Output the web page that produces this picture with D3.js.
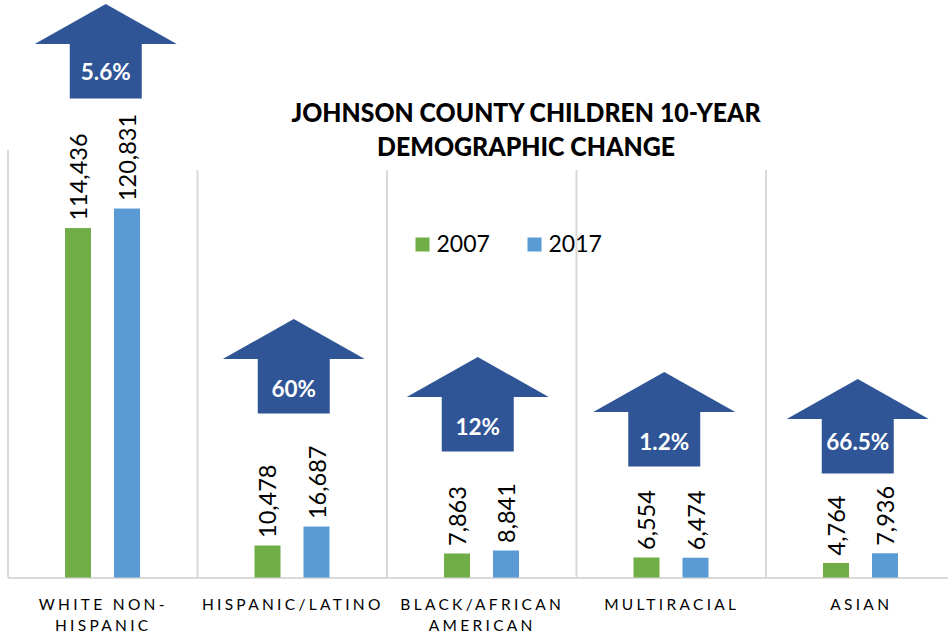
<!DOCTYPE html>
<html>
<head>
<meta charset="utf-8">
<script src="https://cdn.jsdelivr.net/npm/d3@7/dist/d3.min.js"></script>
<style>
  html, body { margin: 0; padding: 0; background: #fff; }
  svg { display: block; }
</style>
</head>
<body>
<svg id="chart" width="948" height="635"></svg>
<script>
// ---- data ----
const categories = ["WHITE NON-HISPANIC", "HISPANIC/LATINO", "BLACK/AFRICAN AMERICAN", "MULTIRACIAL", "ASIAN"];
const categoryLines = [["WHITE NON-", "HISPANIC"], ["HISPANIC/LATINO"], ["BLACK/AFRICAN", "AMERICAN"], ["MULTIRACIAL"], ["ASIAN"]];
const seriesNames = ["2007", "2017"];
const values2007 = [114436, 10478, 7863, 6554, 4764];
const values2017 = [120831, 16687, 8841, 6474, 7936];
const changeLabels = ["5.6%", "60%", "12%", "1.2%", "66.5%"];
const titleLines = ["JOHNSON COUNTY CHILDREN 10-YEAR", "DEMOGRAPHIC CHANGE"];

// ---- layout (not data) ----
const colors = { "2007": "#70ad47", "2017": "#5b9bd5" };
const arrowColor = "#2f5597";
const arrowLayout = [ // dx from category centre, tip y, text shift
  { dx: 3, tip: 4, tdy: 1 }, { dx: 1.5, tip: 319, tdy: 3 }, { dx: -4, tip: 357, tdy: 3 },
  { dx: -7, tip: 372, tdy: 3 }, { dx: -3, tip: 379, tdy: -4 }
];

const svg = d3.select("#chart");
const W = 948, H = 635;
const plotLeft = 8, step = 189.5;
const baseY = 577.5, topY = 150;

const x0 = d3.scaleBand().domain(categories).range([plotLeft, plotLeft + step * categories.length]).padding(0);
const x1 = d3.scaleBand().domain(seriesNames).range([57, 132]).paddingInner(0.4694).paddingOuter(0);
const y = d3.scaleLinear().domain([0, 140000]).range([baseY, topY]);

const rows = categories.map((c, i) => ({ cat: c, i, vals: [{ s: "2007", v: values2007[i] }, { s: "2017", v: values2017[i] }] }));

// gridlines
const grid = svg.append("g");
grid.append("line").attr("x1", plotLeft).attr("x2", plotLeft).attr("y1", topY).attr("y2", baseY)
  .attr("stroke", "#d9d9d9").attr("stroke-width", 2);
categories.slice(1).forEach(c => {
  const gx = x0(c);
  grid.append("line").attr("x1", gx).attr("x2", gx).attr("y1", topY + 20).attr("y2", baseY)
    .attr("stroke", "#d9d9d9").attr("stroke-width", 2);
});
grid.append("line").attr("x1", plotLeft).attr("x2", W).attr("y1", baseY + 0.5).attr("y2", baseY + 0.5)
  .attr("stroke", "#d9d9d9").attr("stroke-width", 2);

// bars
const groups = svg.append("g").selectAll("g").data(rows).join("g")
  .attr("transform", d => `translate(${x0(d.cat)},0)`);
groups.selectAll("rect").data(d => d.vals).join("rect")
  .attr("x", d => x1(d.s)).attr("width", x1.bandwidth())
  .attr("y", d => y(d.v)).attr("height", d => baseY - y(d.v))
  .attr("fill", d => colors[d.s]);

// value labels
groups.selectAll("text.val").data(d => d.vals).join("text")
  .attr("class", "val")
  .attr("transform", d => `translate(${x1(d.s) + x1.bandwidth() / 2 + 9},${y(d.v) - 7.5}) rotate(-90)`)
  .attr("font-family", "Lato, 'Noto Sans', sans-serif").attr("font-size", 23.5).attr("fill", "#000")
  .text(d => d3.format(",")(d.v));

// category labels
const catG = svg.append("g");
categories.forEach((c, i) => {
  const cx = x0(c) + x0.bandwidth() / 2;
  const t = catG.append("text").attr("text-anchor", "middle")
    .attr("font-family", "Lato, 'Noto Sans', sans-serif").attr("font-size", 15.5)
    .attr("letter-spacing", "3.3px").attr("fill", "#000");
  categoryLines[i].forEach((ln, k) => {
    t.append("tspan").attr("x", cx + 0.5).attr("y", 610 + k * 21).text(ln);
  });
});

// arrows
const aw = 142, ah = 94.5, headH = 40, shaftW = 72;
categories.forEach((c, i) => {
  const cx = x0(c) + x0.bandwidth() / 2 + arrowLayout[i].dx;
  const ty = arrowLayout[i].tip;
  const p = d3.path();
  p.moveTo(cx, ty);
  p.lineTo(cx + aw / 2, ty + headH);
  p.lineTo(cx + shaftW / 2, ty + headH);
  p.lineTo(cx + shaftW / 2, ty + ah);
  p.lineTo(cx - shaftW / 2, ty + ah);
  p.lineTo(cx - shaftW / 2, ty + headH);
  p.lineTo(cx - aw / 2, ty + headH);
  p.closePath();
  svg.append("path").attr("d", p.toString()).attr("fill", arrowColor);
  svg.append("text").attr("x", cx).attr("y", ty + headH + (ah - headH) / 2 + 8 + arrowLayout[i].tdy)
    .attr("text-anchor", "middle").attr("font-family", "Lato, 'Noto Sans', sans-serif")
    .attr("font-weight", "bold").attr("font-size", 22.5).attr("fill", "#fff")
    .text(changeLabels[i]);
});

// title
const titleLen = [469, 298];
titleLines.forEach((ln, k) => {
  svg.append("text").attr("x", 526).attr("y", 122.3 + k * 33.4)
    .attr("text-anchor", "middle").attr("font-family", "Lato, 'Noto Sans', sans-serif")
    .attr("font-weight", "900").attr("font-size", 26).attr("fill", "#000")
    .attr("textLength", titleLen[k]).attr("lengthAdjust", "spacingAndGlyphs")
    .text(ln);
});

// legend
const leg = svg.append("g");
const legX = [415.5, 527.5];
seriesNames.forEach((s, k) => {
  leg.append("rect").attr("x", legX[k]).attr("y", 237.5).attr("width", 14).attr("height", 14).attr("fill", colors[s]);
  leg.append("text").attr("x", legX[k] + 21).attr("y", 251.7)
    .attr("font-family", "Lato, 'Noto Sans', sans-serif").attr("font-size", 23).attr("fill", "#000")
    .text(s);
});
</script>
</body>
</html>
